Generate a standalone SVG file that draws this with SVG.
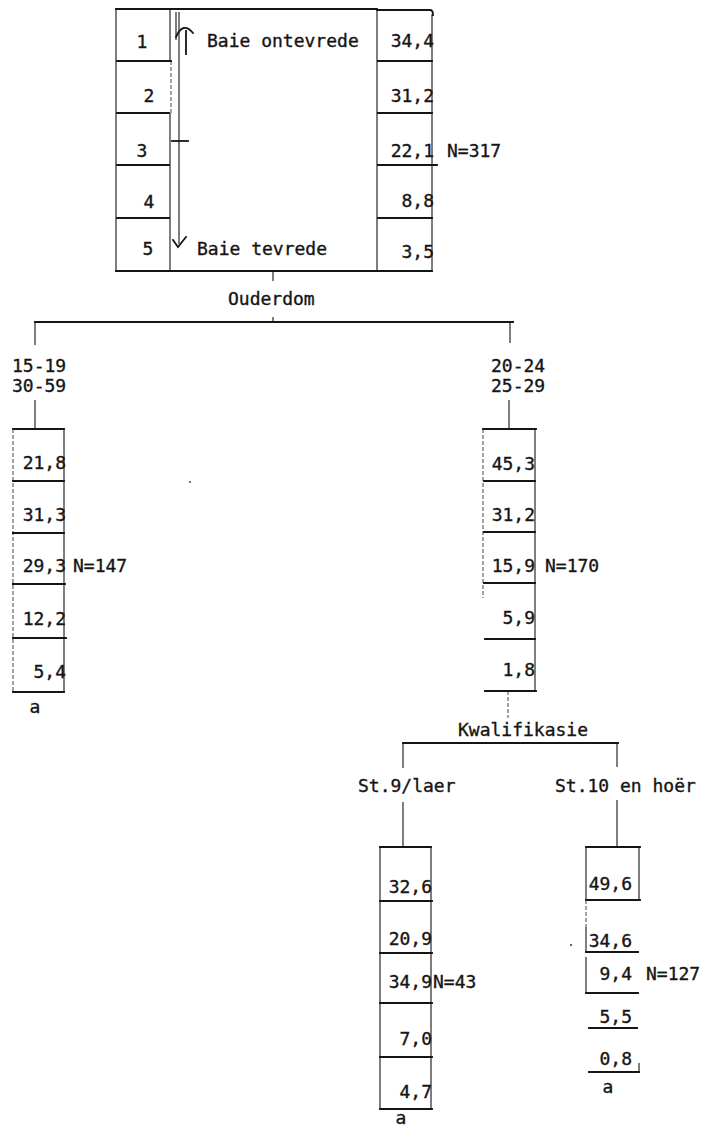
<svg xmlns="http://www.w3.org/2000/svg" width="704" height="1136" viewBox="0 0 704 1136">
<style>
.ln{stroke:#151515;stroke-width:1.8;fill:none;stroke-linecap:square}
.th{stroke:#151515;stroke-width:1.1;fill:none}
.ds{stroke:#444;stroke-width:1;fill:none;stroke-dasharray:4 2}
.t{font-family:"DejaVu Sans Mono","Liberation Mono",monospace;font-size:18px;fill:#151515;stroke:#151515;stroke-width:0.35}
.e{text-anchor:end}
.m{text-anchor:middle}
</style>
<rect width="704" height="1136" fill="#fff"/>

<g id="node-root">
  <line class="ln" x1="116" y1="9" x2="377" y2="9"/>
  <path class="ln" d="M377,10 H430 Q433,10 433,15"/>
  <line class="ln" x1="116" y1="271" x2="432" y2="271"/>
  <line class="th" x1="116" y1="9" x2="116" y2="271"/>
  <line class="th" x1="170" y1="9" x2="170" y2="61"/>
  <line class="ds" x1="171" y1="61" x2="171" y2="113"/>
  <line class="th" x1="170" y1="113" x2="170" y2="271"/>
  <line class="th" x1="377" y1="9" x2="377" y2="271"/>
  <line class="th" x1="432" y1="14" x2="432" y2="271"/>
  <line class="ln" x1="117" y1="61" x2="171" y2="61"/>
  <line class="ln" x1="117" y1="113" x2="169" y2="113"/>
  <line class="ln" x1="117" y1="165" x2="169" y2="165"/>
  <line class="ln" x1="117" y1="218" x2="169" y2="218"/>
  <line class="ln" x1="378" y1="61" x2="432" y2="61"/>
  <line class="ln" x1="378" y1="113" x2="432" y2="113"/>
  <line class="ln" x1="378" y1="165" x2="437" y2="165"/>
  <line class="ln" x1="378" y1="218" x2="432" y2="218"/>
  <line class="th" x1="179" y1="12" x2="179" y2="244"/>
  <line class="th" x1="176" y1="12" x2="176" y2="40"/>
  <path class="ln" d="M176,37 Q183,21 193,33"/>
  <line class="ln" x1="186" y1="31" x2="186" y2="54"/>
  <line class="ln" x1="172" y1="141" x2="188" y2="141"/>
  <path class="ln" d="M173,240 L178,247 L186,237"/>
  <text class="t m" x="142" y="48">1</text>
  <text class="t m" x="149" y="102">2</text>
  <text class="t m" x="142" y="157">3</text>
  <text class="t m" x="149" y="208">4</text>
  <text class="t m" x="148" y="255">5</text>
  <text class="t" x="207" y="47">Baie ontevrede</text>
  <text class="t" x="197" y="255">Baie tevrede</text>
  <text class="t e" x="434" y="47">34,4</text>
  <text class="t e" x="434" y="102">31,2</text>
  <text class="t e" x="434" y="157">22,1</text>
  <text class="t e" x="434" y="207">8,8</text>
  <text class="t e" x="434" y="258">3,5</text>
  <text class="t" x="447" y="157">N=317</text>
</g>

<g id="connectors">
  <line class="th" x1="273" y1="271" x2="273" y2="281"/>
  <text class="t" x="228" y="305">Ouderdom</text>
  <line class="th" x1="273" y1="317" x2="273" y2="322"/>
  <line class="ln" x1="35" y1="322" x2="513" y2="322"/>
  <line class="th" x1="35" y1="322" x2="35" y2="345"/>
  <line class="th" x1="510" y1="322" x2="510" y2="343"/>
  <line class="th" x1="35" y1="400" x2="35" y2="428"/>
  <line class="th" x1="509" y1="400" x2="509" y2="428"/>
  <line class="ds" x1="508" y1="691" x2="508" y2="718"/>
  <text class="t" x="458" y="736">Kwalifikasie</text>
  <line class="ln" x1="403" y1="743" x2="618" y2="743"/>
  <line class="th" x1="403" y1="743" x2="403" y2="768"/>
  <line class="th" x1="617" y1="743" x2="617" y2="767"/>
  <line class="th" x1="403" y1="802" x2="403" y2="846"/>
  <line class="th" x1="617" y1="800" x2="617" y2="846"/>
</g>

<g id="node-age-15-19-30-59">
  <text class="t" x="12" y="372">15-19</text>
  <text class="t" x="12" y="392">30-59</text>
  <line class="ln" x1="13" y1="429" x2="64" y2="429"/>
  <line class="ds" x1="13" y1="429" x2="13" y2="692"/>
  <line class="th" x1="64" y1="429" x2="64" y2="692"/>
  <line class="ln" x1="13" y1="481" x2="64" y2="481"/>
  <line class="ln" x1="13" y1="533" x2="64" y2="533"/>
  <line class="ln" x1="13" y1="584" x2="65" y2="584"/>
  <line class="ln" x1="13" y1="638" x2="66" y2="638"/>
  <line class="ln" x1="13" y1="692" x2="64" y2="692"/>
  <text class="t e" x="66" y="469">21,8</text>
  <text class="t e" x="66" y="521">31,3</text>
  <text class="t e" x="66" y="572">29,3</text>
  <text class="t e" x="66" y="625">12,2</text>
  <text class="t e" x="66" y="678">5,4</text>
  <text class="t" x="73" y="572">N=147</text>
  <text class="t m" x="35" y="713">a</text>
  <circle cx="190" cy="482" r="0.9" fill="#333"/>
</g>

<g id="node-age-20-24-25-29">
  <text class="t" x="491" y="372">20-24</text>
  <text class="t" x="491" y="392">25-29</text>
  <line class="ln" x1="483" y1="429" x2="536" y2="429"/>
  <line class="ds" x1="483" y1="429" x2="483" y2="598"/>
  <line class="th" x1="535" y1="429" x2="535" y2="691"/>
  <line class="ln" x1="484" y1="481" x2="535" y2="481"/>
  <line class="ln" x1="484" y1="532" x2="535" y2="532"/>
  <line class="ln" x1="484" y1="583" x2="535" y2="583"/>
  <line class="ln" x1="485" y1="639" x2="535" y2="639"/>
  <line class="ln" x1="485" y1="691" x2="536" y2="691"/>
  <text class="t e" x="535" y="470">45,3</text>
  <text class="t e" x="535" y="521">31,2</text>
  <text class="t e" x="535" y="572">15,9</text>
  <text class="t e" x="535" y="624">5,9</text>
  <text class="t e" x="535" y="676">1,8</text>
  <text class="t" x="545" y="572">N=170</text>
</g>

<g id="node-st9-laer">
  <text class="t" x="358" y="792">St.9/laer</text>
  <line class="ln" x1="380" y1="847" x2="431" y2="847"/>
  <line class="th" x1="380" y1="847" x2="380" y2="1109"/>
  <line class="th" x1="431" y1="847" x2="431" y2="1109"/>
  <line class="ln" x1="380" y1="901" x2="432" y2="901"/>
  <line class="ln" x1="380" y1="953" x2="432" y2="953"/>
  <line class="ln" x1="380" y1="1003" x2="432" y2="1003"/>
  <line class="ln" x1="380" y1="1057" x2="432" y2="1057"/>
  <line class="ln" x1="380" y1="1109" x2="432" y2="1109"/>
  <text class="t e" x="432" y="893">32,6</text>
  <text class="t e" x="432" y="945">20,9</text>
  <text class="t e" x="432" y="988">34,9</text>
  <text class="t e" x="432" y="1045">7,0</text>
  <text class="t e" x="432" y="1098">4,7</text>
  <text class="t" x="433" y="988">N=43</text>
  <text class="t m" x="401" y="1124">a</text>
</g>

<g id="node-st10-hoer">
  <text class="t" x="555" y="792">St.10 en hoër</text>
  <line class="ln" x1="586" y1="847" x2="640" y2="847"/>
  <line class="th" x1="586" y1="847" x2="586" y2="900"/>
  <line class="th" x1="639" y1="847" x2="639" y2="900"/>
  <line class="ln" x1="586" y1="900" x2="640" y2="900"/>
  <line class="ds" x1="586" y1="900" x2="586" y2="927"/>
  <line class="th" x1="586" y1="927" x2="586" y2="952"/>
  <line class="ln" x1="586" y1="952" x2="638" y2="952"/>
  <line class="th" x1="586" y1="957" x2="586" y2="993"/>
  <line class="ln" x1="586" y1="993" x2="638" y2="993"/>
  <line class="ln" x1="589" y1="1028" x2="637" y2="1028"/>
  <line class="ln" x1="589" y1="1072" x2="639" y2="1072"/>
  <line class="th" x1="639" y1="1063" x2="639" y2="1072"/>
  <text class="t e" x="632" y="890">49,6</text>
  <text class="t e" x="632" y="947">34,6</text>
  <text class="t e" x="632" y="980">9,4</text>
  <text class="t e" x="632" y="1023">5,5</text>
  <text class="t e" x="632" y="1065">0,8</text>
  <text class="t" x="646" y="980">N=127</text>
  <text class="t m" x="608" y="1093">a</text>
  <circle cx="571" cy="945" r="1" fill="#333"/>
</g>
</svg>
